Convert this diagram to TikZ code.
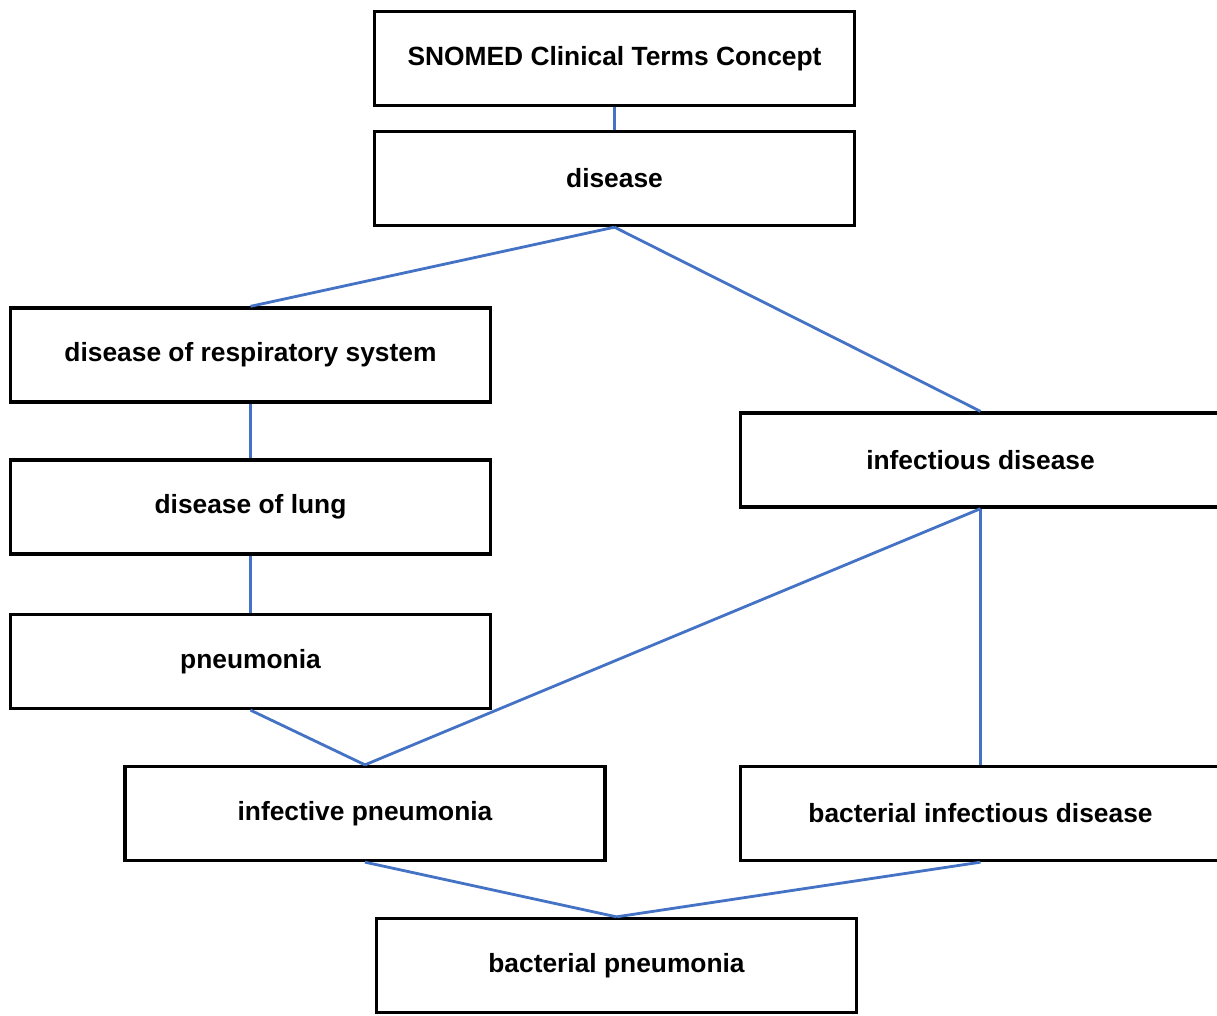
\documentclass[tikz,border=0pt]{standalone}
\usepackage{fontspec}
\setmainfont{Liberation Sans}
\usepackage{tikz}
\usetikzlibrary{positioning}
\definecolor{linkblue}{RGB}{68,114,196}
\tikzset{
  concept/.style={draw=black, line width=1.9pt, minimum width=9.6cm, minimum height=1.88cm,
    inner sep=0pt, font=\fontsize{15}{18}\selectfont\bfseries, fill=white},
  isa/.style={linkblue, line width=1.6pt}
}

\begin{document}
\begin{tikzpicture}[x=0.02cm,y=-0.02cm]
\useasboundingbox (0,0) rectangle (1217,1015);
\node[concept] (snomed) at (614.5,58.5) {SNOMED Clinical Terms Concept};
\node[concept] (disease) at (614.5,178.5) {disease};
\node[concept] (resp) at (250.5,355) {disease of respiratory system};
\node[concept] (infect) at (980.5,460) {infectious disease};
\node[concept] (lung) at (250.5,507) {disease of lung};
\node[concept] (pneu) at (250.5,661.5) {pneumonia};
\node[concept] (infpneu) at (365,813.5) {infective pneumonia};
\node[concept] (bactinf) at (980.5,813.5) {bacterial infectious disease};
\node[concept] (bactpneu) at (616.5,965.5) {bacterial pneumonia};
\draw[isa] (snomed.south) -- (disease.north);
\draw[isa] (disease.south) -- (resp.north);
\draw[isa] (disease.south) -- (infect.north);
\draw[isa] (resp.south) -- (lung.north);
\draw[isa] (lung.south) -- (pneu.north);
\draw[isa] (pneu.south) -- (infpneu.north);
\draw[isa] (infect.south) -- (infpneu.north);
\draw[isa] (infect.south) -- (bactinf.north);
\draw[isa] (infpneu.south) -- (bactpneu.north);
\draw[isa] (bactinf.south) -- (bactpneu.north);
\end{tikzpicture}
\end{document}
